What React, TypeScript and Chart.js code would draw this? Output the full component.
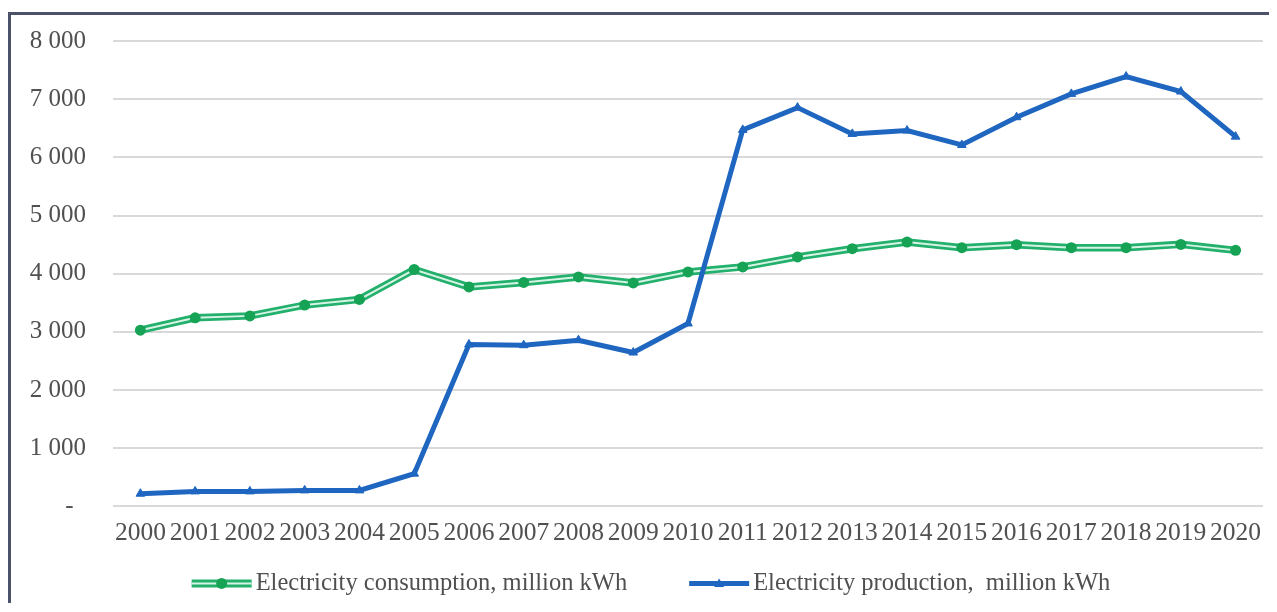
import { useEffect, useRef } from "react";
import { Chart, registerables } from "chart.js";

Chart.register(...registerables);

const years = ["2000", "2001", "2002", "2003", "2004", "2005", "2006", "2007", "2008", "2009", "2010", "2011", "2012", "2013", "2014", "2015", "2016", "2017", "2018", "2019", "2020"];
const consumption = [3029, 3241, 3275, 3460, 3558, 4072, 3773, 3849, 3945, 3842, 4031, 4117, 4289, 4430, 4544, 4447, 4499, 4447, 4447, 4504, 4401];
const production = [218, 258, 258, 275, 275, 563, 2783, 2771, 2857, 2645, 3145, 6472, 6855, 6403, 6460, 6213, 6690, 7091, 7389, 7131, 6356];
const yMin = 0;
const yMax = 8000;
const yStep = 1000;
const seriesNames = ["Electricity consumption, million kWh", "Electricity production,  million kWh"];

const FONT = "'Liberation Serif', 'Times New Roman', serif";
const GREEN = "#22b06c";
const GREEN_INNER = "#d6f3e4";
const GREEN_MARK = "#16a356";
const BLUE = "#1f66c1";
const TEXT = "#505050";
const GRID = "#d9d9d9";
const CLEAR = "rgba(0,0,0,0)";

function formatTick(v: number): string {
  if (v === 0) return "-  ";
  const th = Math.floor(v / 1000);
  const rest = String(v % 1000).padStart(3, "0");
  return `${th} ${rest}`;
}

const legendPlugin = {
  id: "customLegend",
  afterDraw(chart: any) {
    const ctx = chart.ctx as CanvasRenderingContext2D;
    ctx.save();
    ctx.font = `24.5px ${FONT}`;
    const iconW = 60;
    const gapIT = 4;
    const itemGap = 62;
    const w0 = ctx.measureText(seriesNames[0]).width;
    const w1 = ctx.measureText(seriesNames[1]).width;
    const total = iconW + gapIT + w0 + itemGap + iconW + gapIT + w1;
    let x = chart.width / 2 + 11 - total / 2;
    const y = chart.chartArea.bottom + 77;
    // green icon
    ctx.lineCap = "butt";
    ctx.strokeStyle = GREEN;
    ctx.lineWidth = 8;
    ctx.beginPath();
    ctx.moveTo(x, y);
    ctx.lineTo(x + iconW, y);
    ctx.stroke();
    ctx.strokeStyle = GREEN_INNER;
    ctx.lineWidth = 2;
    ctx.beginPath();
    ctx.moveTo(x, y);
    ctx.lineTo(x + iconW, y);
    ctx.stroke();
    ctx.fillStyle = GREEN_MARK;
    ctx.beginPath();
    ctx.arc(x + iconW / 2, y, 5.5, 0, Math.PI * 2);
    ctx.fill();
    ctx.fillStyle = TEXT;
    ctx.textBaseline = "middle";
    ctx.textAlign = "left";
    ctx.fillText(seriesNames[0], x + iconW + gapIT, y);
    x += iconW + gapIT + w0 + itemGap;
    // blue icon
    ctx.strokeStyle = BLUE;
    ctx.lineWidth = 5;
    ctx.beginPath();
    ctx.moveTo(x, y);
    ctx.lineTo(x + iconW, y);
    ctx.stroke();
    ctx.fillStyle = BLUE;
    ctx.beginPath();
    ctx.moveTo(x + iconW / 2, y - 5);
    ctx.lineTo(x + iconW / 2 + 5, y + 3.5);
    ctx.lineTo(x + iconW / 2 - 5, y + 3.5);
    ctx.closePath();
    ctx.fill();
    ctx.fillStyle = TEXT;
    ctx.fillText(seriesNames[1], x + iconW + gapIT, y);
    ctx.restore();
  },
};

export default function App() {
  const ref = useRef<HTMLCanvasElement | null>(null);

  useEffect(() => {
    if (!ref.current) return;
    const chart = new Chart(ref.current, {
      type: "line",
      data: {
        labels: years,
        datasets: [
          {
            label: seriesNames[1],
            data: production,
            borderColor: BLUE,
            backgroundColor: BLUE,
            borderWidth: 5,
            pointStyle: "triangle",
            pointRadius: 5,
            pointBackgroundColor: BLUE,
            pointBorderColor: BLUE,
            pointBorderWidth: 1,
            tension: 0,
            order: 0,
          },
          {
            label: seriesNames[0] + " (inner)",
            data: consumption,
            borderColor: GREEN_INNER,
            borderWidth: 2,
            pointStyle: "circle",
            pointRadius: 5.5,
            pointBackgroundColor: GREEN_MARK,
            pointBorderColor: GREEN_MARK,
            pointBorderWidth: 0,
            tension: 0,
            order: 1,
          },
          {
            label: seriesNames[0],
            data: consumption,
            borderColor: GREEN,
            borderWidth: 7.5,
            pointRadius: 0,
            tension: 0,
            order: 2,
          },
        ],
      },
      options: {
        responsive: false,
        animation: false,
        layout: { padding: { left: 9, right: 3, top: 26, bottom: 54 } },
        plugins: {
          legend: { display: false },
          tooltip: { enabled: false },
        },
        scales: {
          x: {
            offset: true,
            grid: {
              display: true,
              drawOnChartArea: false,
              drawTicks: true,
              tickLength: 12,
              tickColor: CLEAR,
              color: CLEAR,
            },
            border: { display: false },
            ticks: {
              color: TEXT,
              font: { family: FONT, size: 25.5 },
              padding: 0,
              maxRotation: 0,
              autoSkip: false,
            },
          },
          y: {
            min: yMin,
            max: yMax,
            afterFit(scale: any) {
              scale.width = 93;
            },
            grid: {
              color: GRID,
              lineWidth: 2,
              drawTicks: true,
              tickLength: 27,
              tickColor: CLEAR,
            },
            border: { display: false },
            ticks: {
              stepSize: yStep,
              color: TEXT,
              font: { family: FONT, size: 25 },
              padding: 0,
              callback: (v: any) => formatTick(Number(v)),
            },
          },
        },
      },
      plugins: [legendPlugin],
    });
    return () => chart.destroy();
  }, []);

  return (
    <div
      style={{
        marginTop: 4,
        borderTop: "3px solid #4b5269",
        borderLeft: "3px solid #4b5269",
        background: "#ffffff",
      }}
    >
      <canvas ref={ref} width={1258} height={588} style={{ display: "block" }} />
    </div>
  );
}
